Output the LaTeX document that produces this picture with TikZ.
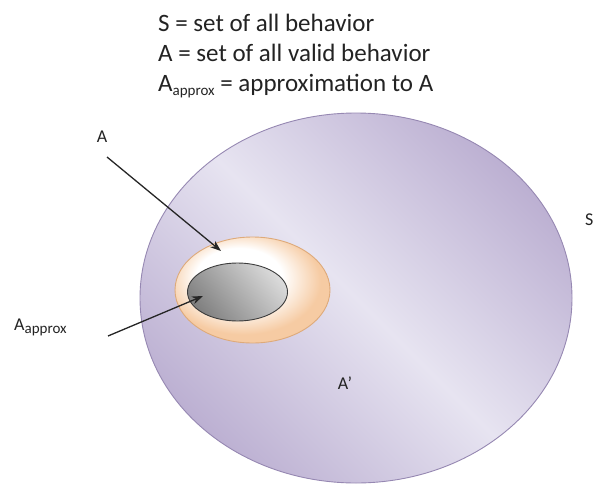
\documentclass[tikz,border=0pt]{standalone}
\usepackage{fontspec}
\setmainfont{Carlito}
\usetikzlibrary{arrows.meta}
\definecolor{txt}{RGB}{35,35,35}
\definecolor{sd}{RGB}{188,176,210}
\definecolor{sl}{RGB}{231,228,241}
\definecolor{sborder}{RGB}{150,136,178}
\definecolor{pch}{RGB}{246,203,163}
\definecolor{pborder}{RGB}{222,170,122}
\definecolor{gl}{RGB}{218,218,218}
\definecolor{gd}{RGB}{128,128,128}
\definecolor{gborder}{RGB}{60,60,60}
\pgfdeclarehorizontalshading{bigS}{100bp}{color(0bp)=(sd); color(25bp)=(sd); color(50bp)=(sl); color(75bp)=(sd); color(100bp)=(sd)}
\pgfdeclareradialshading{peachS}{\pgfpoint{-6bp}{8bp}}{color(0bp)=(white); color(14bp)=(white); color(25bp)=(pch); color(50bp)=(pch)}
\tikzset{
  lbl/.style={font=\fontsize{18}{20}\selectfont, text=txt, inner sep=0pt, anchor=base},
  toptxt/.style={font=\fontsize{25}{28}\selectfont, text=txt, anchor=base west, inner sep=0pt},
  pointer/.style={-{Stealth[length=11pt,width=8pt]}, line width=1.3pt, black!85},
}
\newcommand{\labsub}[2]{\raisebox{-#1}{\fontsize{#2}{#2}\selectfont approx}}
\begin{document}
\begin{tikzpicture}[x=1pt,y=-1pt]
\useasboundingbox (0,0) rectangle (593,484);
% big set S
\path[draw=sborder, line width=0.9pt, shading=bigS, shading angle=45]
  (356,298) ellipse [x radius=216, y radius=185];
% set A
\path[draw=pborder, line width=0.9pt, shading=peachS]
  (252.5,290) ellipse [x radius=77.5, y radius=53];
% approximation
\path[draw=gborder, line width=0.9pt, shading=axis,
      top color=gl, bottom color=gd, shading angle=-50]
  (237.5,292) ellipse [x radius=50, y radius=29];
\coordinate (Aend) at (221,251);
\coordinate (Pend) at (203,296);
% labels
\node[toptxt] (t1) at (158,32) {S = set of all behavior};
\node[toptxt] (t2) at (158,62) {A = set of all valid behavior};
\node[toptxt] (t3) at (158,92) {A\labsub{4pt}{15} = approximation to A};
\node[lbl] (la) at (102,142) {A};
\node[lbl, anchor=base west] (lp) at (14,330) {A\labsub{3pt}{15}};
\node[lbl] (lc) at (345,389) {A’};
\node[lbl, anchor=base west] (ls) at (585,225) {S};
\coordinate (as) at (107,157);
\coordinate (ps) at (108,336);
\draw[pointer] (as) -- (Aend);
\draw[pointer] (ps) -- (Pend);
\end{tikzpicture}
\end{document}
